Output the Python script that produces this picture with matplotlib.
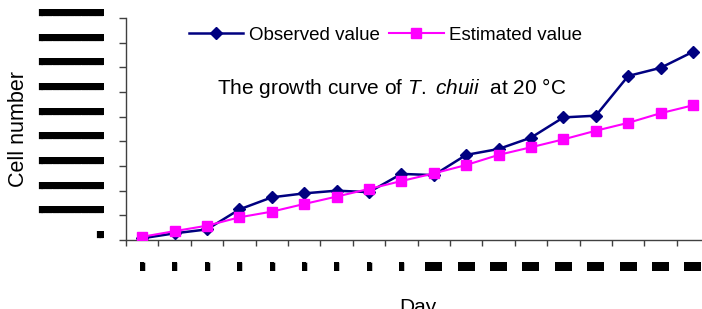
import matplotlib
matplotlib.use("Agg")
import matplotlib.pyplot as plt
from matplotlib.transforms import ScaledTranslation

plt.rcParams['font.family'] = 'Liberation Sans'
plt.rcParams['mathtext.fontset'] = 'custom'
plt.rcParams['mathtext.rm'] = 'Liberation Sans'
plt.rcParams['mathtext.it'] = 'Liberation Sans:italic'

# data
days = list(range(1, 19))
observed = [7000, 27000, 43000, 124000, 173000, 189000, 200000, 194000, 268000,
            263000, 345000, 369000, 415000, 497000, 504000, 665000, 698000, 763000]
estimated = [13000, 36000, 58000, 92000, 115000, 146000, 176000, 207000, 239000,
             270000, 304000, 345000, 376000, 408000, 443000, 475000, 514000, 546000]
yticks = [0, 100000, 200000, 300000, 400000, 500000, 600000, 700000, 800000, 900000]
# the tick numbers show up as solid blocks in the source figure
ytick_labels = ['██'] + ['██████████████████'] * 9
day_labels = ['█'] * 9 + ['████'] * 9

fig = plt.figure(figsize=(7.02, 3.09), dpi=100)
ax = fig.add_axes([126 / 702, 69 / 309, 583.2 / 702, 222 / 309])

x = list(range(len(days)))
ax.plot(x, observed, color='#000080', lw=1.8, marker='D', ms=6.5,
        label='Observed value', zorder=3)
ax.plot(x, estimated, color='#FF00FF', lw=1.5, marker='s', ms=7.5,
        label='Estimated value', zorder=4)

ax.set_xlim(-0.5, len(days) - 0.5)
ax.set_ylim(0, 900000)

ax.set_xticks([i - 0.5 for i in range(len(days) + 1)])
ax.set_xticklabels([])
ax.set_xticks(x, minor=True)
ax.set_xticklabels(day_labels, minor=True, fontsize=5, family='DejaVu Sans Mono')
ax.tick_params(axis='x', which='major', length=4, width=1, color='#404040')
ax.tick_params(axis='x', which='minor', length=0, pad=16)
for lab in ax.get_xticklabels(minor=True):
    lab.set_bbox(dict(facecolor='black', edgecolor='none', pad=0))

ax.set_yticks(yticks)
ax.set_yticklabels(ytick_labels, fontsize=4.3, family='DejaVu Sans Mono')
ax.tick_params(axis='y', length=5, width=1, color='#404040', pad=11)
off = ScaledTranslation(0, 6 / 100, fig.dpi_scale_trans)
for lab in ax.get_yticklabels():
    lab.set_transform(lab.get_transform() + off)
    lab.set_bbox(dict(facecolor='black', edgecolor='none', pad=0))

for s in ['top', 'right']:
    ax.spines[s].set_visible(False)
for s in ['left', 'bottom']:
    ax.spines[s].set_color('#404040')
    ax.spines[s].set_linewidth(1)

ax.set_ylabel('Cell number', fontsize=15.5, labelpad=6.5)
ax.set_xlabel('Day', fontsize=15, labelpad=20)

ax.legend(loc='center', bbox_to_anchor=(385.5 / 702, 1 - 35 / 309),
          bbox_transform=fig.transFigure, ncol=2, frameon=False, fontsize=13.5,
          handlelength=2.9, handletextpad=0.3, columnspacing=0.5,
          borderpad=0, borderaxespad=0)

fig.text(391.5 / 702, 1 - 88 / 309, r'The growth curve of $T.\ chuii$  at 20 °C',
         ha='center', va='center', fontsize=15)

fig.savefig('out.png', dpi=100)
plt.close(fig)
